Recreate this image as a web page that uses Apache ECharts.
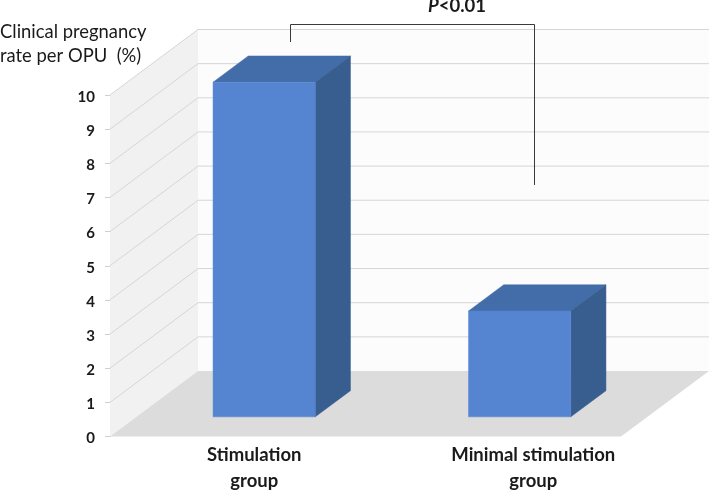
<!DOCTYPE html>
<html>
<head>
<meta charset="utf-8">
<style>html,body{margin:0;padding:0;background:#fff}#c{width:709px;height:490px}</style>
<script src="https://cdn.jsdelivr.net/npm/echarts@6/dist/echarts.min.js"></script>
</head>
<body>
<div id="c"></div>
<script>
const categories = ['Stimulation\ngroup', 'Minimal stimulation\ngroup'];
const pregnancyRate = [9.8, 3.1];
const yTicks = [0,1,2,3,4,5,6,7,8,9,10];
const yAxisTitle = ['Clinical pregnancy', 'rate per OPU  (%)'];
const pValueItalic = 'P';
const pValueRest = '<0.01';

const DEPTH = {x: 88, y: -65.5};
const BAR_FRONT = 0.3, BAR_BACK = 0.7, BAR_BAND = 0.4;
const FONT = 'Lato, Carlito, "Open Sans", sans-serif';

const chart = echarts.init(document.getElementById('c'), null, {renderer: 'canvas'});
function at(p, d) { return [p[0] + DEPTH.x * d, p[1] + DEPTH.y * d]; }

function renderWalls(params, api) {
  const cs = params.coordSys;
  const l = cs.x, r = cs.x + cs.width;
  const y0 = api.coord([0, 0])[1], y1 = api.coord([0, 10])[1];
  const poly = (pts, fill) => ({type: 'polygon', shape: {points: pts}, style: {fill: fill, stroke: null}, silent: true});
  return {type: 'group', children: [
    poly([at([l, y1], 1), at([r, y1], 1), at([r, y0], 1), at([l, y0], 1)], '#fcfcfc'),
    poly([[l, y0], at([l, y0], 1), at([l, y1], 1), [l, y1]], '#f1f1f1'),
    poly([[l, y0], [r, y0], at([r, y0], 1), at([l, y0], 1)], '#dcdcdc')
  ]};
}
function renderGrid(params, api) {
  const cs = params.coordSys;
  const l = cs.x, r = cs.x + cs.width;
  const y = api.coord([0, api.value(0)])[1];
  const a = [l, y], b = at(a, 1), c = at([r, y], 1);
  return {type: 'polyline', shape: {points: [a, b, c]},
    style: {stroke: '#d6d6d6', lineWidth: 1, fill: null}, silent: true};
}
function renderBar(params, api) {
  const idx = api.value(0), v = api.value(1);
  const cx = api.coord([idx, 0])[0];
  const half = api.size([1, 0])[0] * BAR_BAND / 2;
  const yb = api.coord([idx, 0])[1], yt = api.coord([idx, v])[1];
  const fbl = at([cx - half, yb], BAR_FRONT), fbr = at([cx + half, yb], BAR_FRONT);
  const ftl = at([cx - half, yt], BAR_FRONT), ftr = at([cx + half, yt], BAR_FRONT);
  const bbr = at([cx + half, yb], BAR_BACK);
  const btl = at([cx - half, yt], BAR_BACK), btr = at([cx + half, yt], BAR_BACK);
  const poly = (pts, fill) => ({type: 'polygon', shape: {points: pts}, style: {fill: fill, stroke: fill, lineWidth: 0.5}});
  return {type: 'group', children: [
    poly([ftl, ftr, btr, btl], '#426da9'),
    poly([ftr, fbr, bbr, btr], '#385d8f'),
    poly([ftl, ftr, fbr, fbl], '#5585d0')
  ]};
}

chart.setOption({
  animation: false,
  backgroundColor: '#ffffff',
  textStyle: {fontFamily: FONT},
  grid: {left: 110, right: 88, top: 95, bottom: 53.5, outerBoundsMode: 'none', containLabel: false},
  xAxis: {
    type: 'category', data: categories,
    axisLine: {show: false}, axisTick: {show: false}, splitLine: {show: false},
    axisLabel: {
      interval: 0, margin: 6,
      formatter: function (val) {
        const k = categories.indexOf(val) === 0 ? 'a' : 'b';
        return val.split('\n').map(s => '{' + k + '|' + s + '}').join('\n');
      },
      rich: {
        a: {fontFamily: FONT, fontWeight: 'bold', fontSize: 18.5, color: '#1a1a1a', lineHeight: 26, padding: [0, 0, 0, 33]},
        b: {fontFamily: FONT, fontWeight: 'bold', fontSize: 18.5, color: '#1a1a1a', lineHeight: 26, padding: [0, 0, 0, 80]}
      }
    }
  },
  yAxis: {
    type: 'value', min: 0, max: 10, interval: 1,
    axisLine: {show: true, lineStyle: {color: '#cfcfcf', width: 1}},
    axisTick: {show: true, length: 5, lineStyle: {color: '#cfcfcf'}},
    splitLine: {show: false},
    axisLabel: {
      margin: 15,
      formatter: '{n|{value}}',
      rich: {n: {fontFamily: FONT, fontWeight: 'bold', fontSize: 15, color: '#1a1a1a', padding: [4, 0, 0, 0]}}
    }
  },
  series: [
    {type: 'custom', coordinateSystem: 'cartesian2d', clip: false, silent: true, z: 1,
     renderItem: renderWalls, data: [[0]], encode: {x: 0}},
    {type: 'custom', coordinateSystem: 'cartesian2d', clip: false, silent: true, z: 2,
     renderItem: renderGrid, data: yTicks.slice(1).map(v => [v]), encode: {y: 0}},
    {type: 'custom', coordinateSystem: 'cartesian2d', clip: false, z: 3,
     renderItem: renderBar, data: pregnancyRate.map((v, i) => [i, v]), encode: {x: 0, y: 1}}
  ],
  graphic: [
    {type: 'text', left: 0, top: 23, z: 10, style: {text: yAxisTitle[0], font: '18.4px ' + FONT, fill: '#1a1a1a'}},
    {type: 'text', left: 0, top: 47, z: 10, style: {text: yAxisTitle[1], font: '18.4px ' + FONT, fill: '#1a1a1a'}},
    {type: 'polyline', z: 10, shape: {points: [[290.5, 42], [290.5, 24.5], [534.5, 24.5], [534.5, 185]]},
     style: {stroke: '#3a3a3a', lineWidth: 1, fill: null}},
    {type: 'text', left: 428, top: -3, z: 10, style: {
      text: '{i|' + pValueItalic + '}{r|' + pValueRest + '}',
      rich: {
        i: {font: 'italic bold 18.5px ' + FONT, fill: '#1a1a1a'},
        r: {font: 'bold 18.5px ' + FONT, fill: '#1a1a1a'}
      }
    }}
  ]
});
</script>
</body>
</html>
